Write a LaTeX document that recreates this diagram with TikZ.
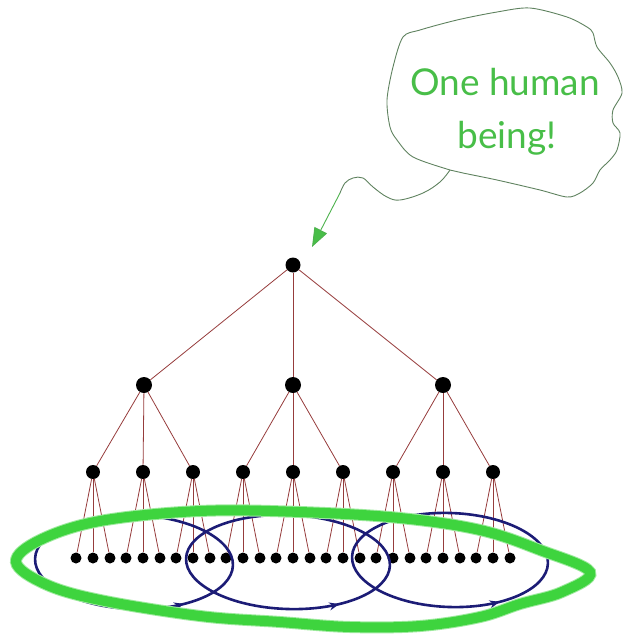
\documentclass[tikz,border=0pt]{standalone}
\usepackage{fontspec}
\setsansfont{Lato}
\usetikzlibrary{arrows.meta,decorations.markings}
\definecolor{twigred}{RGB}{150,60,60}
\definecolor{loopblue}{RGB}{28,28,118}
\definecolor{ringgreen}{RGB}{62,212,62}
\definecolor{puffgray}{RGB}{95,130,95}
\definecolor{saygreen}{RGB}{72,190,72}
\tikzset{
  bead/.style={circle, fill=black, inner sep=0pt, minimum size=#1},
  twig/.style={draw=twigred, line width=0.8pt},
  coil/.style={draw=loopblue, line width=2.6pt, postaction={decorate},
    decoration={markings, mark=at position 0.14 with {\arrowreversed{Stealth[length=10pt,width=8pt]}}}},
  ring/.style={draw=ringgreen, line width=10pt},
  puff/.style={draw=puffgray, line width=0.9pt},
  say/.style={text=saygreen, font=\sffamily\fontsize{37}{44}\selectfont, inner sep=0pt}
}

\begin{document}
\begin{tikzpicture}[x=1pt, y=-1pt]
  \useasboundingbox (0,0) rectangle (623,638);
  \node[bead=15pt] (r) at (293,265) {};
  \foreach \x [count=\i] in {144,293,443} {
    \node[bead=16pt] (a\i) at (\x,385) {};
    \draw[twig] (r) -- (a\i);
  }
  \foreach \i in {1,...,9} {
    \pgfmathtruncatemacro\p{int((\i+2)/3)}
    \node[bead=14pt] (b\i) at ({43+50*\i},472) {};
    \draw[twig] (a\p) -- (b\i);
    \foreach \k [count=\j] in {-17,0,17} {
      \node[bead=11pt] (c\i-\j) at ({43+50*\i+\k},558) {};
      \draw[twig] (b\i) -- (c\i-\j);
    }
  }

  \coordinate (e1) at (134,562);
  \coordinate (e2) at (288,562);
  \coordinate (e3) at (450,560);
  \draw[coil, rotate around={-2:(e1)}] (e1) ellipse [x radius=99, y radius=47];
  \draw[coil, rotate around={-2:(e2)}] (e2) ellipse [x radius=102, y radius=47];
  \draw[coil, rotate around={-2:(e3)}] (e3) ellipse [x radius=98, y radius=47];

  \draw[ring, ringgreen!50, line width=12pt] plot[smooth cycle, tension=0.6] coordinates {
    (16,562) (40,540) (100,521) (200,511) (300,512) (400,518) (480,530) (540,550) (590,572)
    (562,592) (520,604) (480,617) (420,626) (350,627) (280,622) (200,616) (100,600) (45,584)};
  \draw[ring] plot[smooth cycle, tension=0.6] coordinates {
    (16,562) (40,540) (100,521) (200,511) (300,512) (400,518) (480,530) (540,550) (590,572)
    (562,592) (520,604) (480,617) (420,626) (350,627) (280,622) (200,616) (100,600) (45,584)};

  \draw[puff] plot[smooth cycle, tension=0.5] coordinates {
    (387,100) (393,67) (403,37) (420,30) (457,20) (497,12) (530,8) (567,17) (587,27) (593,33)
    (597,47) (610,63) (618,77) (622,93) (613,110) (613,123) (620,133) (617,150) (610,160)
    (600,170) (593,183) (580,193) (567,197) (540,190) (497,180) (463,173) (450,170) (413,157)
    (397,140) (390,127)};
  \node[say, anchor=base] (say1) at (505,95) {One human};
  \node[say, anchor=base] (say2) at (507,148) {being!};

  \coordinate (tail) at (450,170);
  \coordinate (bend) at (340,193);
  \coordinate (tip) at (312,247);
  \draw[puff] plot[smooth, tension=0.6] coordinates {
    (tail) (440,182) (423,193) (400,200) (387,197) (373,187) (363,178) (353,178) (345,183) (bend)};
  \draw[draw=saygreen!80!puffgray, line width=0.9pt, -{Triangle[length=19pt,width=14pt, fill=saygreen]}] (bend) -- (tip);
\end{tikzpicture}
\end{document}
